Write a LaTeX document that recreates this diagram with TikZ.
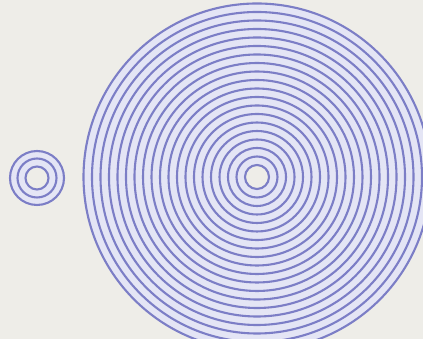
\documentclass[tikz,border=0pt]{standalone}
\usepackage{tikz}
\usetikzlibrary{positioning,calc}
\usepackage{xcolor}
\definecolor{paper}{HTML}{EEEDE8}
\definecolor{lilac}{HTML}{E4E5F5}
\definecolor{ring}{HTML}{7C7EC6}

\begin{document}
\begin{tikzpicture}[x=1pt,y=1pt, ringline/.style={line width=2.1pt, draw=ring}]
  \useasboundingbox (0,0) rectangle (423,339);
  \clip (0,0) rectangle (423,339);
  \fill[paper] (0,0) rectangle (423,339);
  \coordinate (small) at (37,161);
  \coordinate (big) at (257,162);
  % small target
  \fill[lilac] (small) circle (27);
  \fill[paper] (small) circle (11);
  \foreach \r in {11.5,19.5,27}
    \draw[ringline] (small) circle (\r);
  % big target
  \fill[lilac] (big) circle (173.5);
  \fill[paper] (big) circle (12);
  \foreach \k in {0,...,19}
    \draw[ringline] (big) circle ({12+8.5*\k});
\end{tikzpicture}
\end{document}
